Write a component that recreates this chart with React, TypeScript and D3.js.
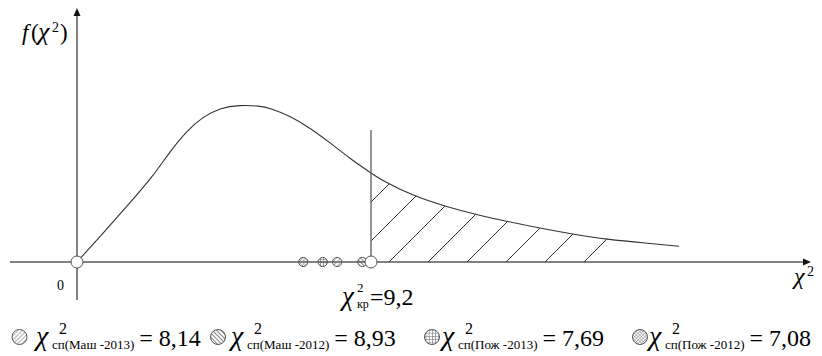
import React from 'react';
import * as d3 from 'd3';

// curve points (chi2 value, density)
const curveX = [0, 0.81, 1.66, 2.38, 2.91, 3.44, 3.94, 4.47, 5.09, 5.72, 6.03, 6.66, 7.28, 7.91, 8.53, 9.16, 9.47, 10.5, 11.56, 12.5, 13.47, 14.53, 15.56, 16.56, 17.81, 18.84];
const curveY = [0, 0.029, 0.06, 0.087, 0.112, 0.133, 0.147, 0.156, 0.159, 0.158, 0.156, 0.148, 0.136, 0.121, 0.105, 0.091, 0.084, 0.067, 0.056, 0.048, 0.041, 0.034, 0.028, 0.023, 0.019, 0.016];

const critValue = 9.2;
const critText = '9,2';
const hatchEnd = 16.75;

const obsNames = ['сп(Маш -2013)', 'сп(Маш -2012)', 'сп(Пож -2013)', 'сп(Пож -2012)'];
const obsValues = [8.14, 8.93, 7.69, 7.08];
const obsText = ['8,14', '8,93', '7,69', '7,08'];
const obsPatterns = ['hatchA', 'hatchB', 'grid', 'cross'];

// legend layout (circle centre, chi start)
const legendCx = [19.5, 218, 432, 640];
const legendChiX = [36, 231, 442, 649];

const W = 822;
const H = 356;

export default function App() {
  const x = d3.scaleLinear().domain([0, critValue]).range([77, 371]);
  const y = d3.scaleLinear().domain([0, 0.16]).range([262, 104]);

  const pts: [number, number][] = curveX.map((v, i) => [v, curveY[i]]);
  const line = d3.line<[number, number]>()
    .x(d => x(d[0]))
    .y(d => y(d[1]))
    .curve(d3.curveBasis);
  const area = d3.area<[number, number]>()
    .x(d => x(d[0]))
    .y0(y(0))
    .y1(d => y(d[1]))
    .curve(d3.curveBasis);

  const x0 = x(0), yb = y(0);
  const xc = x(critValue);

  // 45 degree hatch lines, baseline intercepts
  const hatch = d3.range(311, 600, 39);

  const axisCol = '#5a5a5a';
  const tStyle = { fontFamily: 'Liberation Serif' };

  return (
    <svg width={W} height={H} style={{ position: 'absolute', left: 0, top: 0, background: '#fff' }}>
      <defs>
        <pattern id="hatchA" width={3} height={3} patternUnits="userSpaceOnUse" patternTransform="rotate(45)">
          <line x1={0} y1={0} x2={0} y2={3} stroke="#666" strokeWidth={1} />
        </pattern>
        <pattern id="hatchB" width={3} height={3} patternUnits="userSpaceOnUse" patternTransform="rotate(-45)">
          <line x1={0} y1={0} x2={0} y2={3} stroke="#555" strokeWidth={1.5} />
        </pattern>
        <pattern id="grid" width={3.2} height={3.2} patternUnits="userSpaceOnUse">
          <path d="M0,0V3.2M0,0H3.2" stroke="#555" strokeWidth={0.9} fill="none" />
        </pattern>
        <pattern id="cross" width={2.4} height={2.4} patternUnits="userSpaceOnUse" patternTransform="rotate(45)">
          <path d="M0,0V2.4M0,0H2.4" stroke="#777" strokeWidth={0.8} fill="none" />
        </pattern>
        <clipPath id="underCurve">
          <path d={area(pts) || ''} />
        </clipPath>
        <clipPath id="tailRect">
          <rect x={xc} y={0} width={x(hatchEnd) - xc} height={yb} />
        </clipPath>
      </defs>

      {/* axes */}
      <line x1={10} y1={yb} x2={806} y2={yb} stroke={axisCol} strokeWidth={1.5} />
      <path d={`M811,${yb}L803,${yb - 3.5}L803,${yb + 3.5}Z`} fill="#111" />
      <line x1={x0} y1={300} x2={x0} y2={14} stroke={axisCol} strokeWidth={1.5} />
      <path d={`M${x0},8L${x0 - 3.5},16L${x0 + 3.5},16Z`} fill="#111" />

      {/* hatching of the critical region */}
      <g clipPath="url(#tailRect)">
        <g clipPath="url(#underCurve)">
          {hatch.map(b => (
            <line key={b} x1={b} y1={yb} x2={b + 200} y2={yb - 200} stroke="#333" strokeWidth={1} />
          ))}
        </g>
      </g>

      {/* density curve */}
      <path d={line(pts) || ''} fill="none" stroke="#333" strokeWidth={1.1} />

      {/* critical line */}
      <line x1={xc} y1={130} x2={xc} y2={yb} stroke={axisCol} strokeWidth={1.3} />

      {/* observed values on axis */}
      {obsValues.map((v, i) => (
        <circle key={i} cx={x(v)} cy={yb} r={4.6} fill={`url(#${obsPatterns[i]})`} stroke="#555" strokeWidth={1} />
      ))}
      <circle cx={xc} cy={yb} r={6} fill="#fff" stroke="#555" strokeWidth={1} />
      <circle cx={x0} cy={yb} r={6} fill="#fff" stroke="#555" strokeWidth={1} />

      {/* labels */}
      <g fill="#000">
        <text x={57} y={290} fontSize={14} style={tStyle}>0</text>

        <text x={22} y={40} fontSize={23} fontStyle="italic" style={tStyle}>f</text>
        <text x={31} y={40} fontSize={23} style={tStyle}>(</text>
        <text x={38} y={40} fontSize={26} fontStyle="italic" style={tStyle}>χ</text>
        <text x={52} y={32} fontSize={14} style={tStyle}>2</text>
        <text x={60} y={40} fontSize={23} style={tStyle}>)</text>

        <text x={794} y={284} fontSize={24} fontStyle="italic" style={tStyle}>χ</text>
        <text x={807} y={276} fontSize={14} style={tStyle}>2</text>

        <text x={342} y={305} fontSize={27} fontStyle="italic" style={tStyle}>χ</text>
        <text x={357} y={292} fontSize={13} style={tStyle}>2</text>
        <text x={357} y={308} fontSize={12} style={tStyle}>кр</text>
        <text x={370} y={305} fontSize={24} style={tStyle}>={critText}</text>

        {obsNames.map((n, i) => (
          <g key={i}>
            <circle cx={legendCx[i]} cy={337} r={7.5} fill={`url(#${obsPatterns[i]})`} stroke="#555" strokeWidth={1} />
            <text x={legendChiX[i]} y={345} fontSize={28} fontStyle="italic" style={tStyle}>χ</text>
            <text x={legendChiX[i] + 23} y={334} fontSize={16} style={tStyle}>2</text>
            <text x={legendChiX[i] + 16} y={349} fontSize={13} style={tStyle}>
              {n}
              <tspan fontSize={24} dx={5} dy={-3}>= {obsText[i]}</tspan>
            </text>
          </g>
        ))}
      </g>
    </svg>
  );
}
